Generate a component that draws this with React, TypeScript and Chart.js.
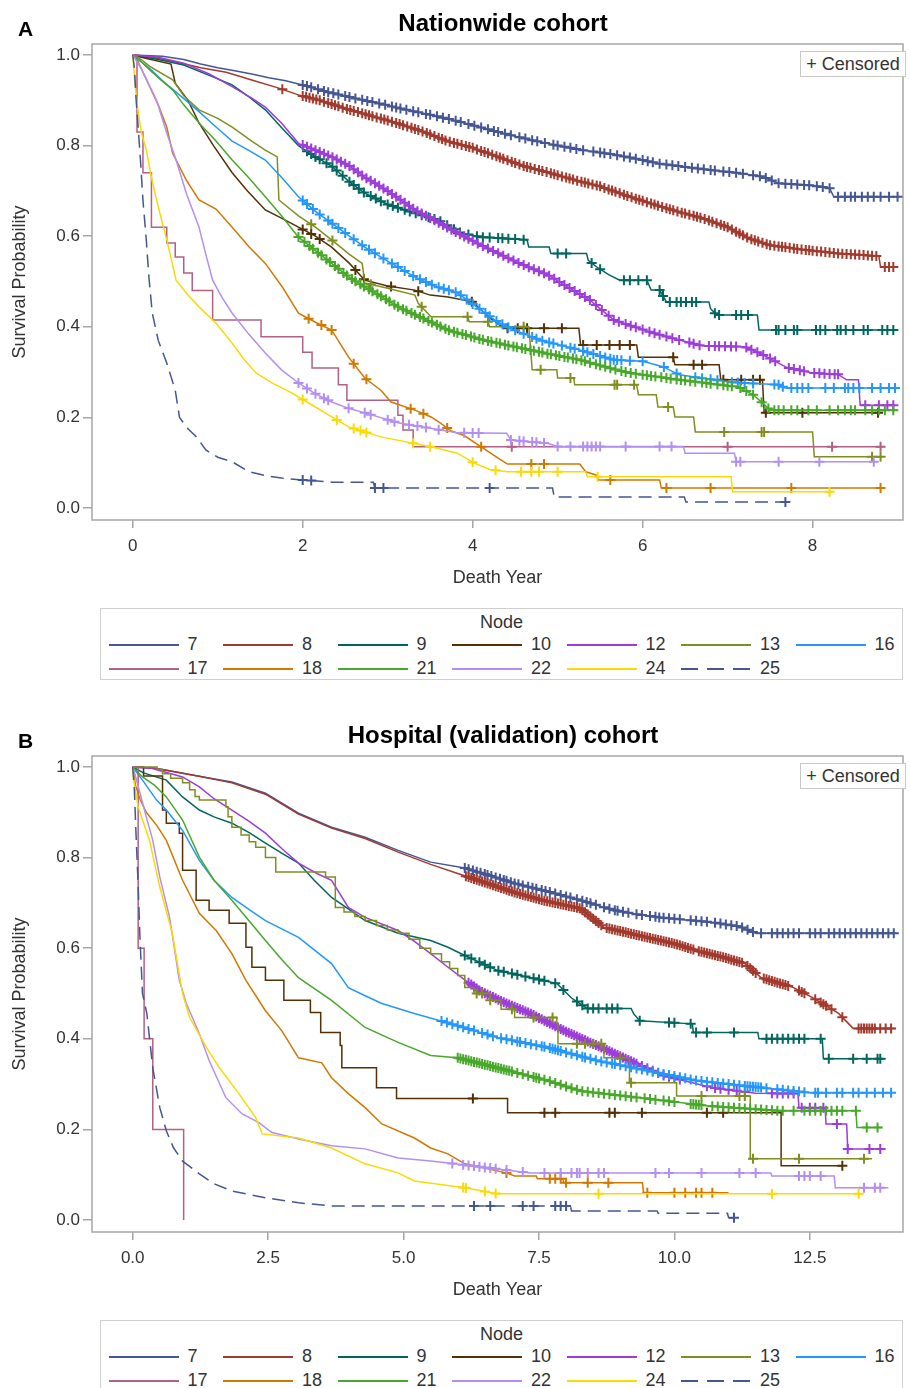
import React, { useEffect, useRef } from 'react';
import { Chart, registerables } from 'chart.js';
Chart.register(...registerables);

const FONT = "'Liberation Sans', Arial, sans-serif";
const NODES = ['7', '8', '9', '10', '12', '13', '16', '17', '18', '21', '22', '24', '25'];
const COLORS = ['#445694', '#A23A2E', '#01665E', '#543005', '#9D3CDB', '#7F8E1F', '#2597FA', '#B26084', '#D17800', '#47A82A', '#B38EF3', '#F9DA04', '#445694'];
const Y_TICKS = [0, 0.2, 0.4, 0.6, 0.8, 1.0];
const A_X_TICKS = [0, 2, 4, 6, 8];
const B_X_TICKS = [0, 2.5, 5, 7.5, 10, 12.5];
// nodes whose few events are drawn as a step function (others: many events, drawn point to point)
const A_STEPPED = ['17'];
const B_STEPPED = ['10', '13', '17'];

// ---------- Panel A : Nationwide cohort (time, survival) ----------
const A7 = [[0,1],[0.35,0.997],[0.6,0.99],[0.8,0.98],[1.0,0.972],[1.2,0.965],[1.4,0.958],[1.6,0.95],[1.8,0.943],[2.0,0.934],[2.3,0.918],[2.6,0.905],[2.9,0.893],[3.2,0.88],[3.5,0.868],[3.8,0.855],[4.1,0.84],[4.4,0.825],[4.7,0.812],[5.0,0.8],[5.3,0.79],[5.6,0.782],[5.9,0.772],[6.2,0.76],[6.5,0.753],[6.8,0.746],[7.1,0.74],[7.4,0.732],[7.6,0.717],[8.0,0.712],[8.2,0.706],[8.25,0.687],[9.0,0.687]];
const A8 = [[0,1],[0.2,0.996],[0.5,0.985],[0.8,0.972],[1.1,0.962],[1.4,0.945],[1.7,0.928],[1.95,0.912],[2.2,0.9],[2.5,0.882],[2.8,0.866],[3.1,0.85],[3.4,0.832],[3.7,0.81],[4.0,0.795],[4.3,0.775],[4.6,0.755],[4.9,0.74],[5.2,0.724],[5.5,0.71],[5.8,0.69],[6.1,0.672],[6.4,0.655],[6.7,0.64],[7.0,0.62],[7.25,0.595],[7.5,0.58],[7.9,0.57],[8.3,0.562],[8.78,0.556],[8.8,0.532],[9.0,0.532]];
const A9 = [[0,1],[0.3,0.99],[0.6,0.978],[0.9,0.955],[1.17,0.934],[1.35,0.91],[1.56,0.879],[1.75,0.84],[1.95,0.8],[2.15,0.775],[2.34,0.755],[2.55,0.72],[2.73,0.695],[3.0,0.67],[3.32,0.651],[3.6,0.635],[3.86,0.607],[4.1,0.598],[4.64,0.592],[4.66,0.576],[4.9,0.576],[4.92,0.562],[5.34,0.562],[5.36,0.547],[5.46,0.532],[5.6,0.515],[5.73,0.503],[6.05,0.503],[6.1,0.481],[6.2,0.481],[6.28,0.455],[6.78,0.455],[6.8,0.44],[6.87,0.426],[7.35,0.426],[7.37,0.393],[8.97,0.393]];
const A10 = [[0,1],[0.1,0.995],[0.45,0.98],[0.5,0.938],[0.65,0.9],[0.78,0.85],[0.95,0.8],[1.17,0.74],[1.35,0.7],[1.56,0.658],[1.75,0.64],[1.95,0.62],[2.15,0.6],[2.34,0.576],[2.55,0.54],[2.73,0.503],[3.0,0.49],[3.32,0.481],[3.5,0.47],[3.71,0.466],[4.0,0.455],[4.1,0.437],[4.2,0.42],[4.37,0.397],[5.25,0.397],[5.27,0.36],[5.93,0.36],[5.95,0.333],[6.36,0.333],[6.38,0.316],[6.9,0.316],[6.92,0.283],[7.41,0.283],[7.43,0.21],[8.77,0.21]];
const A12 = [[0,1],[0.3,0.995],[0.6,0.982],[0.9,0.958],[1.17,0.93],[1.4,0.905],[1.56,0.885],[1.75,0.85],[1.95,0.805],[2.15,0.79],[2.34,0.775],[2.55,0.755],[2.73,0.73],[3.0,0.7],[3.32,0.658],[3.55,0.635],[3.82,0.607],[4.05,0.585],[4.29,0.563],[4.55,0.54],[4.88,0.515],[5.1,0.49],[5.38,0.459],[5.66,0.415],[5.9,0.4],[6.15,0.385],[6.43,0.371],[6.7,0.358],[7.2,0.356],[7.4,0.34],[7.6,0.32],[7.7,0.31],[8.0,0.298],[8.3,0.295],[8.4,0.283],[8.54,0.283],[8.56,0.227],[8.97,0.227]];
const A13 = [[0,1],[0.1,0.99],[0.2,0.975],[0.47,0.945],[0.6,0.91],[0.78,0.879],[1.0,0.86],[1.17,0.841],[1.4,0.81],[1.56,0.79],[1.7,0.775],[1.72,0.68],[1.95,0.645],[2.15,0.62],[2.34,0.592],[2.55,0.56],[2.7,0.54],[2.73,0.497],[3.0,0.485],[3.32,0.47],[3.36,0.452],[3.51,0.422],[3.94,0.422],[3.96,0.411],[4.18,0.411],[4.2,0.4],[4.66,0.4],[4.68,0.356],[4.7,0.305],[4.99,0.305],[5.0,0.287],[5.19,0.287],[5.2,0.272],[5.93,0.272],[5.95,0.25],[6.16,0.25],[6.18,0.223],[6.36,0.223],[6.38,0.201],[6.6,0.201],[6.62,0.168],[8.0,0.168],[8.02,0.113],[8.8,0.113]];
const A16 = [[0,1],[0.2,0.97],[0.4,0.935],[0.58,0.907],[0.78,0.875],[0.98,0.841],[1.17,0.81],[1.36,0.79],[1.56,0.768],[1.75,0.73],[1.95,0.687],[2.15,0.655],[2.34,0.629],[2.55,0.6],[2.73,0.576],[3.0,0.545],[3.32,0.51],[3.55,0.49],[3.82,0.475],[4.1,0.437],[4.3,0.41],[4.49,0.393],[4.8,0.37],[5.26,0.349],[5.66,0.327],[6.0,0.324],[6.24,0.312],[6.43,0.294],[7.02,0.278],[7.6,0.272],[7.68,0.265],[9.0,0.265]];
const A17 = [[0,1],[0.05,0.83],[0.12,0.74],[0.22,0.62],[0.4,0.585],[0.5,0.554],[0.6,0.519],[0.7,0.48],[0.94,0.415],[1.51,0.378],[2.0,0.344],[2.11,0.309],[2.42,0.272],[2.52,0.238],[3.12,0.205],[3.18,0.172],[3.3,0.135],[8.83,0.135]];
const A18 = [[0,1],[0.05,0.99],[0.2,0.93],[0.3,0.89],[0.4,0.841],[0.47,0.783],[0.63,0.724],[0.78,0.68],[0.98,0.66],[1.17,0.62],[1.37,0.576],[1.56,0.54],[1.76,0.488],[1.95,0.43],[2.15,0.41],[2.34,0.393],[2.45,0.36],[2.54,0.333],[2.73,0.287],[2.92,0.26],[3.04,0.234],[3.32,0.216],[3.51,0.201],[3.6,0.19],[3.75,0.17],[3.9,0.16],[4.1,0.135],[4.3,0.11],[4.41,0.097],[5.26,0.097],[5.33,0.08],[5.45,0.073],[5.48,0.062],[6.2,0.062],[6.22,0.044],[8.8,0.044]];
const A21 = [[0,1],[0.1,0.985],[0.2,0.967],[0.33,0.945],[0.47,0.923],[0.6,0.89],[0.78,0.85],[0.98,0.81],[1.17,0.768],[1.36,0.73],[1.56,0.687],[1.75,0.645],[1.95,0.598],[2.15,0.568],[2.34,0.54],[2.54,0.51],[2.73,0.488],[2.9,0.47],[3.12,0.444],[3.4,0.42],[3.71,0.393],[4.1,0.372],[4.49,0.356],[4.9,0.34],[5.26,0.327],[5.55,0.312],[5.85,0.298],[6.43,0.283],[7.13,0.267],[7.3,0.25],[7.41,0.232],[7.5,0.216],[9.0,0.216]];
const A22 = [[0,1],[0.1,0.97],[0.28,0.9],[0.4,0.828],[0.51,0.768],[0.63,0.695],[0.78,0.62],[0.86,0.56],[0.94,0.503],[1.05,0.465],[1.17,0.43],[1.36,0.385],[1.56,0.342],[1.75,0.305],[1.95,0.276],[2.15,0.252],[2.34,0.234],[2.54,0.22],[2.73,0.21],[3.12,0.188],[3.5,0.176],[3.82,0.166],[4.4,0.165],[4.45,0.15],[4.88,0.143],[5.0,0.136],[6.48,0.136],[6.5,0.121],[7.08,0.121],[7.1,0.102],[8.7,0.102]];
const A24 = [[0,1],[0.03,0.93],[0.06,0.88],[0.1,0.83],[0.16,0.79],[0.22,0.73],[0.28,0.68],[0.4,0.592],[0.51,0.503],[0.65,0.47],[0.78,0.444],[0.98,0.408],[1.17,0.364],[1.3,0.33],[1.45,0.298],[1.65,0.275],[1.87,0.254],[2.15,0.223],[2.35,0.2],[2.54,0.179],[2.92,0.157],[3.51,0.135],[3.82,0.121],[4.02,0.099],[4.2,0.085],[4.41,0.08],[5.33,0.08],[5.35,0.069],[7.04,0.069],[7.06,0.036],[8.23,0.036]];
const A25 = [[0,1],[0.02,0.97],[0.04,0.9],[0.06,0.85],[0.09,0.77],[0.12,0.68],[0.16,0.59],[0.19,0.51],[0.23,0.43],[0.3,0.37],[0.4,0.32],[0.5,0.26],[0.55,0.2],[0.65,0.175],[0.75,0.157],[0.86,0.128],[1.0,0.112],[1.17,0.102],[1.37,0.08],[1.6,0.07],[1.75,0.066],[2.0,0.062],[2.34,0.057],[2.83,0.057],[2.85,0.044],[4.94,0.044],[4.96,0.024],[6.49,0.024],[6.51,0.013],[7.68,0.013]];

const A7C = [2.0,2.05,2.1,2.18,2.25,2.3,2.36,2.42,2.5,2.55,2.62,2.7,2.76,2.82,2.9,2.97,3.05,3.1,3.15,3.22,3.3,3.36,3.45,3.5,3.58,3.65,3.72,3.8,3.86,3.95,4.02,4.1,4.18,4.25,4.3,4.38,4.45,4.55,4.62,4.7,4.76,4.85,4.95,5.0,5.08,5.15,5.22,5.3,5.42,5.5,5.55,5.62,5.7,5.78,5.85,5.92,6.0,6.06,6.12,6.2,6.28,6.35,6.42,6.5,6.58,6.65,6.72,6.8,6.85,6.95,7.02,7.1,7.18,7.3,7.38,7.45,7.52,7.6,7.68,7.75,7.82,7.9,7.96,8.05,8.12,8.2,8.3,8.38,8.45,8.5,8.58,8.65,8.72,8.8,8.9,9.0];
const A8C = [1.76,2.0,2.04,2.08,2.12,2.16,2.2,2.25,2.3,2.34,2.38,2.42,2.47,2.52,2.56,2.6,2.65,2.7,2.74,2.78,2.82,2.87,2.92,2.96,3.0,3.05,3.1,3.14,3.18,3.23,3.28,3.32,3.36,3.41,3.46,3.5,3.55,3.6,3.64,3.68,3.73,3.78,3.82,3.87,3.92,3.96,4.0,4.05,4.1,4.14,4.18,4.23,4.28,4.32,4.36,4.41,4.46,4.5,4.55,4.6,4.64,4.68,4.73,4.78,4.82,4.87,4.92,4.96,5.0,5.05,5.1,5.14,5.18,5.23,5.28,5.32,5.36,5.41,5.46,5.5,5.55,5.6,5.64,5.68,5.73,5.78,5.82,5.87,5.92,5.96,6.0,6.05,6.1,6.14,6.18,6.23,6.28,6.32,6.36,6.41,6.46,6.5,6.55,6.6,6.64,6.68,6.73,6.78,6.82,6.87,6.92,6.96,7.0,7.05,7.1,7.14,7.18,7.23,7.28,7.32,7.36,7.41,7.46,7.5,7.55,7.6,7.64,7.68,7.73,7.78,7.82,7.87,7.92,7.96,8.0,8.05,8.1,8.15,8.2,8.25,8.3,8.35,8.4,8.45,8.5,8.55,8.6,8.65,8.7,8.75,8.85,8.9,8.95];
const A9C = [2.05,2.1,2.15,2.2,2.28,2.35,2.4,2.47,2.55,2.6,2.66,2.72,2.8,2.86,2.92,3.0,3.06,3.12,3.2,3.26,3.33,3.4,3.48,3.55,3.62,3.7,3.78,3.85,3.95,4.05,4.12,4.2,4.3,4.35,4.42,4.5,4.6,5.0,5.1,5.4,5.5,5.78,5.85,5.95,6.05,6.2,6.24,6.32,6.4,6.45,6.51,6.58,6.63,6.85,6.9,7.1,7.16,7.24,7.57,7.6,7.68,7.78,7.82,8.04,8.09,8.15,8.29,8.33,8.39,8.48,8.6,8.65,8.82,8.88,8.95];
const A10C = [2.0,2.1,2.2,2.62,2.72,3.04,3.36,3.99,4.41,4.53,4.64,4.84,5.05,5.3,5.46,5.61,5.73,5.85,6.36,6.6,6.7,6.95,7.16,7.3,7.38,7.45,7.88,8.77];
const A12C = [2.0,2.05,2.1,2.15,2.2,2.25,2.3,2.35,2.4,2.45,2.5,2.55,2.6,2.65,2.7,2.75,2.8,2.85,2.9,2.95,3.0,3.05,3.1,3.15,3.2,3.25,3.3,3.35,3.4,3.45,3.5,3.55,3.6,3.65,3.7,3.75,3.8,3.85,3.9,3.95,4.0,4.06,4.12,4.18,4.24,4.3,4.36,4.42,4.48,4.54,4.6,4.66,4.72,4.78,4.84,4.9,4.96,5.02,5.08,5.14,5.2,5.26,5.32,5.38,5.45,5.52,5.6,5.66,5.72,5.8,5.86,5.92,6.0,6.08,6.14,6.2,6.28,6.35,6.43,6.55,6.6,6.67,6.78,6.85,6.9,6.97,7.04,7.1,7.22,7.28,7.35,7.42,7.5,7.56,7.72,7.78,7.85,7.9,8.02,8.08,8.14,8.2,8.26,8.3,8.62,8.78,8.88,8.95];
const A13C = [2.1,2.35,2.8,3.4,3.94,4.18,4.6,4.8,5.15,5.67,5.7,5.9,6.3,6.96,7.4,7.43,8.7,8.8];
const A16C = [2.0,2.05,2.12,2.2,2.3,2.35,2.42,2.5,2.6,2.7,2.78,2.85,2.95,3.05,3.12,3.2,3.3,3.38,3.45,3.52,3.6,3.66,3.72,3.8,3.86,3.93,4.0,4.08,4.15,4.2,4.28,4.35,4.42,4.5,4.6,4.7,4.75,4.82,4.9,4.95,5.05,5.15,5.2,5.3,5.35,5.42,5.5,5.56,5.62,5.66,5.7,5.75,5.85,6.0,6.25,6.4,6.62,6.7,6.8,6.88,7.05,7.12,7.2,7.3,7.55,7.6,7.65,7.75,7.82,7.88,7.95,8.15,8.25,8.38,8.42,8.48,8.55,8.7,8.8,8.9,8.97];
const A17C = [4.46,7.0,8.23,8.8];
const A18C = [2.07,2.22,2.34,2.6,2.75,3.27,3.42,3.7,4.1,4.69,4.84,5.62,6.28,6.8,7.75,8.8];
const A21C = [1.95,2.02,2.08,2.12,2.18,2.22,2.28,2.32,2.38,2.42,2.48,2.52,2.58,2.62,2.68,2.72,2.78,2.82,2.88,2.92,2.98,3.02,3.08,3.12,3.18,3.22,3.28,3.32,3.38,3.42,3.48,3.52,3.58,3.62,3.68,3.72,3.78,3.82,3.88,3.92,3.98,4.02,4.08,4.12,4.18,4.22,4.28,4.32,4.38,4.42,4.48,4.52,4.58,4.62,4.68,4.72,4.78,4.82,4.88,4.92,4.98,5.02,5.08,5.12,5.18,5.22,5.28,5.32,5.38,5.45,5.5,5.56,5.62,5.68,5.75,5.8,5.86,5.92,6.0,6.05,6.1,6.15,6.22,6.28,6.33,6.4,6.45,6.5,6.56,6.62,6.7,6.75,6.8,6.88,6.95,7.0,7.05,7.15,7.22,7.3,7.4,7.48,7.55,7.6,7.66,7.75,7.82,7.95,8.05,8.2,8.3,8.38,8.45,8.5,8.62,8.7,8.78,8.85,8.95];
const A22C = [1.95,2.05,2.15,2.25,2.3,2.54,2.73,2.8,3.0,3.08,3.25,3.35,3.45,3.6,3.9,4.0,4.07,4.45,4.55,4.6,4.7,4.75,4.84,5.0,5.15,5.3,5.35,5.4,5.45,5.5,5.8,6.2,6.34,7.1,7.15,7.6,8.08,8.72];
const A24C = [2.0,2.4,2.6,2.68,2.75,3.3,3.5,4.0,4.27,4.57,4.69,4.78,5.0,5.47,8.2];
const A25C = [2.0,2.1,2.85,2.95,4.2,7.68];

// ---------- Panel B : Hospital (validation) cohort ----------
const B7 = [[0,1],[0.4,0.997],[0.62,0.993],[1.2,0.98],[1.83,0.967],[2.45,0.942],[3.06,0.898],[3.67,0.867],[4.29,0.845],[4.9,0.816],[5.5,0.79],[6.13,0.777],[6.6,0.76],[7.05,0.743],[7.6,0.727],[8.26,0.706],[8.88,0.684],[9.3,0.675],[9.72,0.668],[10.7,0.657],[11.2,0.648],[11.5,0.633],[14.1,0.633]];
const B8 = [[0,1],[0.4,0.997],[0.62,0.993],[1.2,0.98],[1.83,0.965],[2.45,0.94],[3.06,0.896],[3.67,0.865],[4.29,0.842],[4.9,0.812],[5.5,0.785],[6.0,0.765],[6.5,0.745],[7.05,0.723],[7.6,0.705],[8.26,0.688],[8.7,0.646],[9.1,0.635],[9.49,0.624],[10.0,0.61],[10.4,0.595],[10.9,0.58],[11.3,0.566],[11.6,0.535],[12.2,0.513],[12.55,0.491],[13.03,0.456],[13.3,0.423],[14.07,0.423]];
const B9 = [[0,1],[0.2,0.987],[0.62,0.971],[0.92,0.934],[1.23,0.905],[1.5,0.89],[1.83,0.876],[2.15,0.855],[2.45,0.832],[2.75,0.81],[3.06,0.788],[3.35,0.75],[3.67,0.712],[4.0,0.685],[4.29,0.661],[4.9,0.633],[5.5,0.617],[5.82,0.602],[6.13,0.584],[6.73,0.551],[7.34,0.535],[7.83,0.522],[8.1,0.49],[8.39,0.467],[9.2,0.467],[9.25,0.455],[9.36,0.44],[10.33,0.433],[10.35,0.414],[11.54,0.414],[11.56,0.4],[12.73,0.4],[12.75,0.356],[13.9,0.356]];
const B10 = [[0,1],[0.2,0.98],[0.55,0.905],[0.62,0.876],[0.86,0.854],[0.92,0.772],[1.17,0.706],[1.41,0.684],[1.78,0.655],[2.09,0.602],[2.2,0.558],[2.45,0.529],[2.79,0.485],[3.28,0.458],[3.47,0.414],[3.83,0.385],[3.86,0.336],[4.5,0.292],[4.87,0.268],[6.92,0.237],[11.97,0.12],[13.1,0.12]];
const B12 = [[0,1],[0.33,0.998],[0.92,0.978],[1.23,0.956],[1.5,0.93],[1.83,0.905],[2.15,0.88],[2.45,0.854],[2.75,0.82],[3.06,0.788],[3.4,0.765],[3.67,0.75],[3.98,0.69],[4.29,0.668],[4.9,0.639],[5.2,0.615],[5.5,0.588],[5.82,0.558],[6.13,0.53],[6.42,0.505],[6.9,0.478],[7.34,0.456],[7.96,0.418],[8.57,0.385],[9.17,0.352],[9.8,0.319],[10.7,0.292],[11.5,0.28],[12.28,0.279],[12.3,0.248],[12.78,0.248],[12.8,0.212],[13.18,0.212],[13.2,0.157],[13.9,0.157]];
const B13 = [[0,1],[0.45,0.995],[0.55,0.985],[0.7,0.975],[0.92,0.965],[1.05,0.95],[1.15,0.935],[1.23,0.927],[1.72,0.912],[1.76,0.89],[1.83,0.867],[2.0,0.85],[2.15,0.835],[2.27,0.823],[2.45,0.8],[2.64,0.768],[3.56,0.757],[3.74,0.69],[3.9,0.68],[4.1,0.67],[4.29,0.661],[4.5,0.65],[4.7,0.64],[4.9,0.633],[5.1,0.62],[5.3,0.6],[5.5,0.588],[5.7,0.57],[5.85,0.555],[6.0,0.54],[6.13,0.513],[6.3,0.5],[6.6,0.485],[6.8,0.465],[7.05,0.447],[7.83,0.434],[7.85,0.389],[8.7,0.358],[9.17,0.303],[10.04,0.274],[11.4,0.135],[13.65,0.135]];
const B16 = [[0,1],[0.18,0.971],[0.44,0.927],[0.62,0.905],[0.92,0.86],[1.23,0.794],[1.5,0.75],[1.83,0.712],[2.15,0.685],[2.45,0.661],[3.06,0.624],[3.67,0.566],[3.98,0.513],[4.29,0.495],[4.6,0.478],[5.2,0.456],[6.0,0.429],[6.73,0.403],[7.65,0.381],[8.57,0.352],[9.49,0.33],[10.4,0.308],[11.3,0.296],[12.5,0.281],[14.0,0.281]];
const B17 = [[0,1],[0.1,0.6],[0.21,0.4],[0.37,0.2],[0.94,0]];
const B18 = [[0,1],[0.05,0.96],[0.14,0.927],[0.25,0.9],[0.45,0.87],[0.62,0.838],[0.92,0.75],[1.23,0.677],[1.54,0.639],[1.83,0.588],[2.09,0.529],[2.45,0.462],[2.75,0.418],[3.06,0.358],[3.49,0.347],[3.67,0.314],[3.98,0.279],[4.29,0.248],[4.6,0.212],[5.2,0.181],[5.5,0.159],[5.82,0.146],[6.13,0.124],[6.9,0.104],[7.05,0.097],[7.45,0.097],[7.47,0.091],[7.94,0.091],[7.96,0.082],[9.41,0.082],[9.43,0.06],[11.0,0.06]];
const B21 = [[0,1],[0.18,0.978],[0.4,0.96],[0.62,0.934],[0.92,0.883],[1.23,0.801],[1.5,0.75],[1.83,0.706],[2.15,0.66],[2.45,0.617],[2.75,0.575],[3.06,0.535],[3.67,0.485],[4.29,0.425],[4.9,0.392],[5.5,0.363],[6.0,0.358],[6.73,0.336],[7.65,0.308],[8.26,0.285],[9.49,0.268],[10.6,0.252],[11.93,0.241],[13.35,0.241],[13.37,0.204],[13.84,0.204]];
const B22 = [[0,1],[0.05,0.98],[0.14,0.94],[0.25,0.89],[0.37,0.838],[0.5,0.757],[0.68,0.668],[0.86,0.529],[0.99,0.478],[1.23,0.411],[1.41,0.352],[1.72,0.27],[2.02,0.234],[2.33,0.215],[2.57,0.193],[3.06,0.179],[3.67,0.164],[4.29,0.157],[4.9,0.137],[5.5,0.13],[5.82,0.126],[7.34,0.104],[11.78,0.104],[11.8,0.097],[12.95,0.097],[12.97,0.071],[13.95,0.071]];
const B24 = [[0,1],[0.02,0.97],[0.1,0.912],[0.31,0.838],[0.5,0.735],[0.73,0.633],[0.92,0.5],[1.05,0.447],[1.36,0.381],[1.6,0.336],[1.96,0.279],[2.27,0.226],[2.39,0.19],[3.06,0.181],[3.67,0.159],[4.29,0.124],[4.9,0.104],[5.2,0.086],[6.13,0.071],[6.73,0.058],[13.47,0.058]];
const B25 = [[0,1],[0.03,0.95],[0.06,0.854],[0.1,0.74],[0.13,0.633],[0.18,0.5],[0.26,0.456],[0.37,0.336],[0.5,0.248],[0.62,0.197],[0.75,0.16],[0.92,0.13],[1.23,0.102],[1.5,0.08],[1.83,0.064],[2.45,0.049],[3.06,0.038],[3.67,0.031],[8.08,0.031],[8.1,0.02],[9.68,0.02],[9.7,0.015],[10.98,0.015],[11.0,0.005],[11.1,0.005]];

const B7C = [6.13,6.2,6.28,6.35,6.42,6.5,6.55,6.62,6.7,6.78,6.85,6.9,6.98,7.05,7.12,7.2,7.3,7.38,7.45,7.55,7.62,7.7,7.8,7.9,8.0,8.08,8.2,8.3,8.38,8.45,8.55,8.7,8.8,8.9,8.95,9.05,9.15,9.3,9.4,9.55,9.65,9.72,9.8,9.9,10.0,10.1,10.3,10.4,10.5,10.6,10.75,10.85,10.95,11.05,11.15,11.25,11.35,11.45,11.6,11.8,11.9,12.0,12.1,12.2,12.3,12.5,12.6,12.7,12.85,12.95,13.05,13.15,13.25,13.35,13.45,13.55,13.65,13.75,13.85,13.95,14.05];
const B8C = [6.15,6.2,6.25,6.3,6.35,6.4,6.45,6.5,6.55,6.6,6.65,6.7,6.75,6.8,6.85,6.9,6.95,7.0,7.05,7.1,7.15,7.2,7.25,7.3,7.35,7.4,7.45,7.5,7.55,7.6,7.65,7.7,7.75,7.8,7.85,7.9,7.95,8.0,8.05,8.1,8.15,8.2,8.25,8.3,8.35,8.4,8.45,8.5,8.55,8.6,8.65,8.75,8.8,8.85,8.9,8.95,9.0,9.05,9.1,9.15,9.2,9.25,9.3,9.35,9.4,9.45,9.5,9.55,9.6,9.65,9.7,9.75,9.8,9.85,9.9,9.95,10.0,10.05,10.1,10.15,10.2,10.25,10.3,10.35,10.45,10.5,10.55,10.6,10.65,10.7,10.75,10.8,10.85,10.9,10.95,11.0,11.05,11.1,11.15,11.2,11.25,11.35,11.4,11.45,11.5,11.65,11.7,11.75,11.8,11.85,11.9,11.95,12.0,12.05,12.1,12.3,12.35,12.4,12.6,12.7,12.75,12.8,12.9,13.1,13.4,13.45,13.5,13.55,13.6,13.65,13.7,13.8,13.9,14.0];
const B9C = [6.13,6.25,6.4,6.5,6.6,6.75,6.85,7.0,7.1,7.25,7.4,7.5,7.6,7.8,7.95,8.2,8.3,8.4,8.5,8.6,8.75,8.85,8.95,9.36,9.9,10.0,10.3,10.4,10.6,11.1,11.7,11.8,11.9,12.0,12.1,12.2,12.3,12.4,12.7,12.85,13.3,13.55,13.75,13.8];
const B10C = [6.28,7.6,7.8,8.8,8.9,9.4,10.6,10.9,13.1];
const B12C = [6.2,6.25,6.3,6.35,6.4,6.45,6.5,6.55,6.6,6.65,6.7,6.75,6.8,6.85,6.9,6.95,7.0,7.05,7.1,7.15,7.2,7.25,7.3,7.35,7.4,7.45,7.5,7.55,7.6,7.65,7.7,7.75,7.8,7.85,7.9,7.95,8.0,8.05,8.1,8.15,8.2,8.25,8.3,8.35,8.4,8.45,8.5,8.55,8.6,8.65,8.7,8.75,8.8,8.85,8.9,8.95,9.0,9.05,9.1,9.15,9.2,9.25,9.3,9.4,9.5,9.6,9.7,9.8,9.9,10.0,10.1,10.6,10.75,10.85,11.0,11.15,11.3,11.8,11.9,12.0,12.1,12.2,12.35,12.5,12.6,12.75,13.0,13.2,13.6,13.8];
const B13C = [6.35,6.45,6.6,7.0,7.4,7.75,8.2,8.35,8.5,8.65,9.0,9.2,10.5,11.2,11.3,11.45,12.3,13.5];
const B16C = [5.7,5.8,5.9,6.0,6.1,6.2,6.3,6.45,6.55,6.65,6.8,6.9,7.0,7.1,7.15,7.25,7.35,7.45,7.55,7.6,7.7,7.75,7.8,7.85,7.9,8.0,8.1,8.2,8.3,8.35,8.45,8.55,8.65,8.75,8.85,8.9,9.0,9.1,9.2,9.3,9.4,9.5,9.6,9.7,9.8,9.9,10.0,10.1,10.2,10.3,10.4,10.5,10.6,10.7,10.8,10.9,11.0,11.1,11.2,11.3,11.35,11.4,11.45,11.5,11.55,11.6,11.7,11.9,12.0,12.1,12.2,12.3,12.4,12.6,12.65,12.8,13.0,13.1,13.3,13.4,13.55,13.7,13.85,14.0];
const B17C: number[] = [];
const B18C = [6.9,7.7,7.8,7.9,8.0,8.4,8.78,9.5,10.0,10.2,10.4,10.5,10.7];
const B21C = [6.0,6.05,6.1,6.15,6.2,6.25,6.3,6.35,6.4,6.45,6.5,6.55,6.6,6.65,6.7,6.75,6.8,6.85,6.9,6.95,7.0,7.1,7.2,7.3,7.4,7.45,7.5,7.6,7.7,7.8,7.9,8.0,8.1,8.2,8.3,8.4,8.5,8.6,8.7,8.8,8.9,9.0,9.1,9.2,9.3,9.45,9.55,9.65,9.8,9.9,10.0,10.3,10.35,10.4,10.45,10.5,10.7,10.8,10.9,11.0,11.1,11.2,11.3,11.4,11.5,11.6,11.7,11.8,11.9,12.0,12.2,12.4,12.5,12.6,12.7,12.8,12.9,13.0,13.1,13.35,13.55,13.75];
const B22C = [5.9,6.1,6.2,6.3,6.4,6.5,6.6,6.7,6.9,7.2,7.6,7.9,8.1,8.2,8.25,8.4,8.6,8.7,9.65,9.9,10.5,11.2,11.5,12.3,12.4,12.5,12.7,13.5,13.7,13.8];
const B24C = [6.1,6.15,6.5,6.7,8.6,11.8,13.4];
const B25C = [6.3,6.6,7.2,7.4,7.8,7.9,8.0,11.1];

const A_CURVES = [A7, A8, A9, A10, A12, A13, A16, A17, A18, A21, A22, A24, A25];
const A_CENSOR = [A7C, A8C, A9C, A10C, A12C, A13C, A16C, A17C, A18C, A21C, A22C, A24C, A25C];
const B_CURVES = [B7, B8, B9, B10, B12, B13, B16, B17, B18, B21, B22, B24, B25];
const B_CENSOR = [B7C, B8C, B9C, B10C, B12C, B13C, B16C, B17C, B18C, B21C, B22C, B24C, B25C];

// survival at time t (on the drawn line)
function survAt(curve: number[][], t: number, stepped: boolean): number {
  if (stepped) {
    let s = 1;
    for (const [ti, si] of curve) {
      if (ti <= t) s = si; else break;
    }
    return s;
  }
  for (let k = 1; k < curve.length; k++) {
    const [t0, s0] = curve[k - 1];
    const [t1, s1] = curve[k];
    if (t <= t1) {
      if (t1 === t0) return s1;
      return s0 + ((t - t0) / (t1 - t0)) * (s1 - s0);
    }
  }
  return curve[curve.length - 1][1];
}

const framePlugin = {
  id: 'frame',
  beforeDatasetsDraw(chart: any) {
    const { ctx, chartArea: a } = chart;
    ctx.save();
    ctx.strokeStyle = '#a6a6a6';
    ctx.lineWidth = 1.5;
    ctx.strokeRect(a.left, a.top, a.right - a.left, a.bottom - a.top);
    ctx.restore();
  },
};

type PanelProps = {
  top: number;
  letter: string;
  title: string;
  curves: number[][][];
  censors: number[][];
  stepped: string[];
  xMin: number;
  xMax: number;
  xTicks: number[];
  xDec: number;
};

function KMPanel(p: PanelProps) {
  const ref = useRef<HTMLCanvasElement>(null);
  useEffect(() => {
    const datasets: any[] = [];
    p.curves.forEach((curve, i) => {
      const color = COLORS[i];
      const isStep = p.stepped.includes(NODES[i]);
      datasets.push({
        type: 'line',
        label: NODES[i],
        data: curve.map(([x, y]) => ({ x, y })),
        borderColor: color,
        backgroundColor: color,
        borderWidth: 1.5,
        pointRadius: 0,
        stepped: isStep ? 'before' : false,
        tension: 0,
        borderDash: i === 12 ? [13, 7] : [],
        fill: false,
        order: 200 - 2 * i,
      });
      datasets.push({
        type: 'scatter',
        label: NODES[i] + ' censored',
        data: p.censors[i].map((t) => ({ x: t, y: survAt(curve, t, isStep) })),
        borderColor: color,
        backgroundColor: color,
        pointStyle: 'cross',
        pointRadius: 5,
        borderWidth: 2,
        showLine: false,
        order: 199 - 2 * i,
      });
    });
    const tickFont = { family: FONT, size: 17 };
    const chart = new Chart(ref.current as HTMLCanvasElement, {
      type: 'line',
      data: { datasets },
      options: {
        animation: false,
        responsive: false,
        events: [],
        layout: { padding: { top: 44, right: 2, left: 0, bottom: 0 } },
        plugins: { legend: { display: false }, title: { display: false }, tooltip: { enabled: false } },
        scales: {
          x: {
            type: 'linear',
            min: p.xMin,
            max: p.xMax,
            afterFit: (s: any) => { s.height = 80; },
            afterBuildTicks: (s: any) => { s.ticks = p.xTicks.map((v) => ({ value: v })); },
            ticks: { autoSkip: false, maxRotation: 0, padding: 8, color: '#333', font: tickFont, callback: (v: any) => Number(v).toFixed(p.xDec) },
            grid: { drawOnChartArea: false, tickLength: 8, color: '#a6a6a6', lineWidth: 1.5 },
            border: { display: false },
            title: { display: true, text: 'Death Year', color: '#333', font: { family: FONT, size: 18 }, padding: { top: 0, bottom: 11 } },
          },
          y: {
            type: 'linear',
            min: -0.0265,
            max: 1.0243,
            afterFit: (s: any) => { s.width = 92; },
            afterBuildTicks: (s: any) => { s.ticks = Y_TICKS.map((v) => ({ value: v })); },
            ticks: { autoSkip: false, padding: 3, color: '#333', font: tickFont, callback: (v: any) => Number(v).toFixed(1) },
            grid: { drawOnChartArea: false, tickLength: 9, color: '#a6a6a6', lineWidth: 1.5 },
            border: { display: false },
            title: { display: true, text: 'Survival Probability', color: '#333', font: { family: FONT, size: 18 }, padding: { top: 9, bottom: 0 } },
          },
        },
      } as any,
      plugins: [framePlugin],
    });
    return () => chart.destroy();
  }, []);

  const legendRows = [NODES.slice(0, 7), NODES.slice(7)];
  return (
    <div style={{ position: 'absolute', left: 0, top: p.top, width: 910, height: 700 }}>
      <canvas ref={ref} width={910} height={600} style={{ position: 'absolute', left: 0, top: 0, width: 910, height: 600 }} />
      <div style={{ position: 'absolute', left: 18, top: 18, font: `bold 21px ${FONT}`, lineHeight: '21px', color: '#000' }}>{p.letter}</div>
      <div style={{ position: 'absolute', left: 92, width: 822, top: 11, textAlign: 'center', font: `bold 24px ${FONT}`, lineHeight: '24px', color: '#000' }}>{p.title}</div>
      <div style={{ position: 'absolute', left: 800, top: 51, width: 104, height: 24, border: '1px solid #c8c8c8', font: `18px ${FONT}`, lineHeight: '24px', color: '#333', textAlign: 'center', background: '#fff' }}>+ Censored</div>
      <div style={{ position: 'absolute', left: 100, top: 608, width: 803, height: 72, border: '1px solid #cfcfcf', boxSizing: 'border-box' }}>
        <div style={{ position: 'absolute', left: 0, width: 801, top: 2, textAlign: 'center', font: `18px ${FONT}`, lineHeight: '22px', color: '#333' }}>Node</div>
        {legendRows.map((row, r) =>
          row.map((n, c) => {
            const idx = r * 7 + c;
            const color = COLORS[idx];
            return (
              <div key={n} style={{ position: 'absolute', left: 7.5 + c * 114.5, top: 24 + r * 24, width: 112, height: 22 }}>
                <svg width={70} height={22} style={{ position: 'absolute', left: 0, top: 0 }}>
                  <line x1={0} y1={12} x2={70} y2={12} stroke={color} strokeWidth={2} strokeDasharray={idx === 12 ? '17 9' : undefined} />
                </svg>
                <div style={{ position: 'absolute', left: 79, top: 0, font: `18px ${FONT}`, lineHeight: '22px', color: '#333' }}>{n}</div>
              </div>
            );
          })
        )}
      </div>
    </div>
  );
}

export default function App() {
  return (
    <div style={{ position: 'absolute', left: 0, top: 0, width: 910, height: 1388, background: '#fff', overflow: 'hidden' }}>
      <KMPanel top={0} letter="A" title="Nationwide cohort" curves={A_CURVES} censors={A_CENSOR} stepped={A_STEPPED} xMin={-0.4795} xMax={9.064} xTicks={A_X_TICKS} xDec={0} />
      <KMPanel top={712} letter="B" title="Hospital (validation) cohort" curves={B_CURVES} censors={B_CENSOR} stepped={B_STEPPED} xMin={-0.752} xMax={14.22} xTicks={B_X_TICKS} xDec={1} />
    </div>
  );
}
